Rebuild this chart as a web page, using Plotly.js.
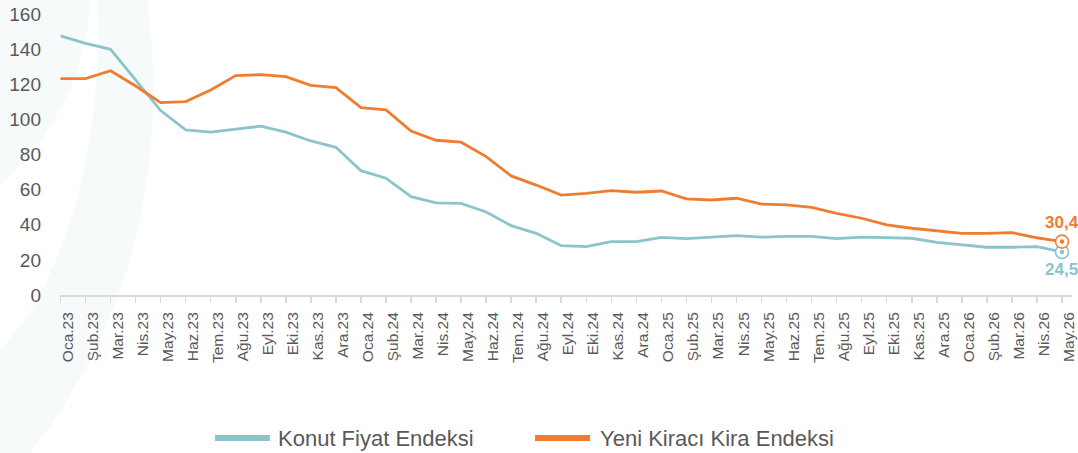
<!DOCTYPE html>
<html>
<head>
<meta charset="utf-8">
<script src="https://cdn.plot.ly/plotly-3.0.1.min.js"></script>
<style>
html,body{margin:0;padding:0;background:#fff;}
#chart{width:1078px;height:453px;}
</style>
</head>
<body>
<div id="chart"></div>
<script>
// ---- Data ----
const months = [
  'Oca.23','Şub.23','Mar.23','Nis.23','May.23','Haz.23','Tem.23','Ağu.23','Eyl.23','Eki.23','Kas.23','Ara.23',
  'Oca.24','Şub.24','Mar.24','Nis.24','May.24','Haz.24','Tem.24','Ağu.24','Eyl.24','Eki.24','Kas.24','Ara.24',
  'Oca.25','Şub.25','Mar.25','Nis.25','May.25','Haz.25','Tem.25','Ağu.25','Eyl.25','Eki.25','Kas.25','Ara.25',
  'Oca.26','Şub.26','Mar.26','Nis.26','May.26'
];
const konutFiyat = [
  147.5,143.3,139.9,122.5,105.0,94.0,92.7,94.5,96.1,92.7,87.7,84.1,
  70.8,66.5,56.0,52.4,52.2,47.3,39.5,35.1,28.1,27.5,30.4,30.4,
  32.8,32.1,32.9,33.8,32.9,33.4,33.4,32.1,32.9,32.5,32.3,30.0,
  28.5,27.2,27.2,27.5,24.5
];
const yeniKiraci = [
  123.2,123.2,127.7,119.0,109.5,110.1,116.7,124.9,125.5,124.3,119.4,118.1,
  106.7,105.4,93.4,88.1,87.0,78.8,67.8,62.6,56.9,57.9,59.4,58.5,
  59.2,54.7,54.1,55.1,51.8,51.3,49.9,46.5,43.7,39.9,38.0,36.6,
  35.1,35.1,35.5,32.6,30.4
];
const seriesNames = ['Konut Fiyat Endeksi','Yeni Kiracı Kira Endeksi'];
const yTicks = [0,20,40,60,80,100,120,140,160];

// ---- Style ----
const TEAL = '#8cc4cc';
const ORANGE = '#ef7d31';
const TXT = '#595959';
const W = 1078, H = 453;
const M = {l:60, r:6, t:14, b:158};
const PW = W - M.l - M.r, PH = H - M.t - M.b;
const px = x => (x - M.l) / PW;
const py = y => (H - M.b - y) / PH;
function pathPx(pts){
  return pts.map(p => {
    const c = p[0]; const r = [];
    for (let i = 1; i < p.length; i += 2) r.push(px(p[i]).toFixed(4) + ',' + py(p[i+1]).toFixed(4));
    return c + ' ' + r.join(' ');
  }).join(' ') + ' Z';
}

const last = months.length - 1;
const fmt = v => String(v).replace('.', ',');

function endMarkers(val, color){
  return [
    {x:[months[last]], y:[val], type:'scatter', mode:'markers', showlegend:false, cliponaxis:false, hoverinfo:'skip',
     marker:{symbol:'circle', size:13, color:'#ffffff', line:{width:1.6, color:color}}},
    {x:[months[last]], y:[val], type:'scatter', mode:'markers', showlegend:false, cliponaxis:false, hoverinfo:'skip',
     marker:{symbol:'circle', size:4.5, color:color, line:{width:0}}}
  ];
}

const traces = [
  {x: months, y: konutFiyat, type:'scatter', mode:'lines', name: seriesNames[0],
   line:{color:TEAL, width:2.8}, showlegend:false, hoverinfo:'skip'},
  {x: months, y: yeniKiraci, type:'scatter', mode:'lines', name: seriesNames[1],
   line:{color:ORANGE, width:2.8}, showlegend:false, hoverinfo:'skip'},
  ...endMarkers(konutFiyat[last], TEAL),
  ...endMarkers(yeniKiraci[last], ORANGE)
];

const deco = '#f6fafb';
const shapes = [
  {type:'path', xref:'paper', yref:'paper', layer:'below', line:{width:0}, fillcolor:deco,
   path: pathPx([['M',0,0],['L',90,0],['C',88,70,55,135,0,185]])},
  {type:'path', xref:'paper', yref:'paper', layer:'below', line:{width:0}, fillcolor:deco,
   path: pathPx([['M',97,0],['L',147,0],['C',165,130,150,300,30,453],['L',0,453],['L',0,350],['C',60,290,105,150,97,0]])},
  {type:'line', xref:'paper', yref:'paper', x0:px(215), x1:px(270), y0:py(438), y1:py(438),
   line:{color:TEAL, width:6}},
  {type:'line', xref:'paper', yref:'paper', x0:px(535), x1:px(590), y0:py(438), y1:py(438),
   line:{color:ORANGE, width:6}}
];

const annotations = [
  {x: months[last], y: yeniKiraci[last], xref:'x', yref:'y', text: fmt(yeniKiraci[last]), showarrow:false,
   yshift:19, font:{family:'Liberation Sans, Arial, sans-serif', size:17, color:ORANGE, weight:700}},
  {x: months[last], y: konutFiyat[last], xref:'x', yref:'y', text: fmt(konutFiyat[last]), showarrow:false,
   yshift:-18, font:{family:'Liberation Sans, Arial, sans-serif', size:17, color:TEAL, weight:700}},
  {x: px(276), y: py(438), xref:'paper', yref:'paper', xanchor:'left', yanchor:'middle', showarrow:false,
   text: seriesNames[0], font:{family:'Liberation Sans, Arial, sans-serif', size:22, color:TXT}},
  {x: px(598), y: py(438), xref:'paper', yref:'paper', xanchor:'left', yanchor:'middle', showarrow:false,
   text: seriesNames[1], font:{family:'Liberation Sans, Arial, sans-serif', size:22, color:TXT}}
];

const layout = {
  width: W, height: H,
  margin: M,
  paper_bgcolor:'#ffffff', plot_bgcolor:'rgba(0,0,0,0)',
  font:{family:'Liberation Sans, Arial, sans-serif', color:TXT},
  showlegend:false,
  xaxis:{
    type:'category', range:[-0.02, 40.4], tickmode:'linear', tick0:0, dtick:1,
    tickangle:-90, tickfont:{size:15.5, color:TXT},
    showgrid:false, zeroline:false, showline:true, linecolor:'#d9d9d9', linewidth:2,
    ticks:'outside', ticklen:6, tickcolor:'#d9d9d9', tickwidth:1.5,
    ticklabelstandoff:3, ticklabelshift:7, fixedrange:true
  },
  yaxis:{
    range:[0,160], tickmode:'array', tickvals:yTicks, ticktext:yTicks.map(String),
    tickfont:{size:19, color:TXT}, showgrid:false, zeroline:false, showline:false,
    ticks:'', ticklabelstandoff:18, fixedrange:true
  },
  shapes, annotations
};

Plotly.newPlot('chart', traces, layout, {displayModeBar:false, staticPlot:true});
</script>
</body>
</html>
